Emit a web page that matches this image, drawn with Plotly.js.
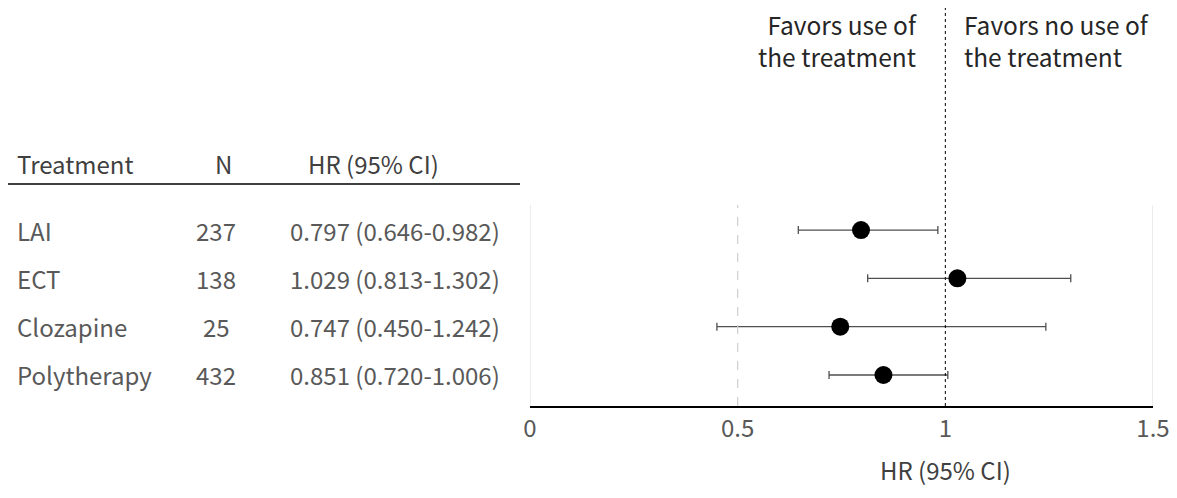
<!DOCTYPE html>
<html><head><meta charset="utf-8">
<script src="https://cdn.plot.ly/plotly-3.0.1.min.js"></script>
<style>html,body{margin:0;padding:0;background:#fff}</style>
</head><body>
<div id="chart" style="width:1177px;height:498px"></div>
<script>
const treatments = ["LAI", "ECT", "Clozapine", "Polytherapy"];
const nValues = ["237", "138", "25", "432"];
const hr = [0.797, 1.029, 0.747, 0.851];
const ciLow = [0.646, 0.813, 0.450, 0.720];
const ciHigh = [0.982, 1.302, 1.242, 1.006];
const hrLabels = ["0.797 (0.646-0.982)", "1.029 (0.813-1.302)", "0.747 (0.450-1.242)", "0.851 (0.720-1.006)"];
const rowPos = [4, 3, 2, 1];
const tickVals = [0, 0.5, 1, 1.5];
const tickText = ["0", "0.5", "1", "1.5"];

const W = 1177, H = 498;
const L = 530, R = 1153, T = 8, B = 406;
const px = p => (p - L) / (R - L);
const py = q => (B - q) / (B - T);
const FONT = "Noto Sans CJK JP";
const grey = "#595959";
const FS = 24;

const trace = {
  type: "scatter", mode: "markers",
  x: hr, y: rowPos,
  marker: {size: 18, color: "#000"},
  error_x: {type: "data", symmetric: false,
    array: hr.map((v, i) => ciHigh[i] - v),
    arrayminus: hr.map((v, i) => v - ciLow[i]),
    color: "#505050", thickness: 1.3, width: 4},
  hoverinfo: "x+y", showlegend: false
};

const annotations = [];
const hdr = (text, x, anchor) => annotations.push({xref: "paper", yref: "paper", x: px(x), y: py(163), text, showarrow: false, xanchor: anchor, yanchor: "middle", font: {family: FONT, size: FS, color: "#404040"}});
hdr("Treatment", 15, "left");
hdr("N", 223, "center");
hdr("HR (95% CI)", 373, "center");
treatments.forEach((t, i) => {
  annotations.push({xref: "paper", yref: "y", x: px(15), y: rowPos[i], text: t, showarrow: false, xanchor: "left", yanchor: "middle", font: {family: FONT, size: FS, color: grey}});
  annotations.push({xref: "paper", yref: "y", x: px(216), y: rowPos[i], text: nValues[i], showarrow: false, xanchor: "center", yanchor: "middle", font: {family: FONT, size: FS, color: grey}});
  annotations.push({xref: "paper", yref: "y", x: px(395), y: rowPos[i], text: hrLabels[i], showarrow: false, xanchor: "center", yanchor: "middle", font: {family: FONT, size: FS, color: grey}});
});
annotations.push({xref: "paper", yref: "paper", x: px(919), y: py(40), text: "Favors use of<br>the treatment", showarrow: false, xanchor: "right", yanchor: "middle", align: "right", font: {family: FONT, size: 24.5, color: "#262626"}});
annotations.push({xref: "paper", yref: "paper", x: px(962), y: py(40), text: "Favors no use of<br>the treatment", showarrow: false, xanchor: "left", yanchor: "middle", align: "left", font: {family: FONT, size: 24.5, color: "#262626"}});
annotations.push({xref: "x", yref: "paper", x: 1, y: py(469), text: "HR (95% CI)", showarrow: false, xanchor: "center", yanchor: "middle", font: {family: FONT, size: FS, color: "#404040"}});

const yBottom = 1 - (B - 375) / 48.3;
const yTop = 4 + (230 - T) / 48.3;
const gridTop = 4 + (230 - 205) / 48.3;

const shapes = [
  {type: "line", xref: "x", yref: "y", x0: 0, x1: 0, y0: yBottom, y1: gridTop, line: {color: "#d9d9d9", width: 1}},
  {type: "line", xref: "x", yref: "y", x0: 0.5, x1: 0.5, y0: yBottom, y1: gridTop, line: {color: "#cfcfcf", width: 1.2, dash: "dash"}},
  {type: "line", xref: "x", yref: "y", x0: 1.5, x1: 1.5, y0: yBottom, y1: gridTop, line: {color: "#d9d9d9", width: 1}},
  {type: "line", xref: "x", yref: "paper", x0: 1, x1: 1, y0: 0, y1: 1, line: {color: "#000", width: 1, dash: "dot"}},
  {type: "line", xref: "paper", yref: "paper", x0: px(8), x1: px(520), y0: py(184), y1: py(184), line: {color: "#000", width: 1.5}}
];

const layout = {
  width: W, height: H,
  margin: {l: L, r: W - R, t: T, b: H - B},
  paper_bgcolor: "#fff", plot_bgcolor: "#fff",
  xaxis: {range: [0, 1.5], tickvals: tickVals, ticktext: tickText, showgrid: false, zeroline: false,
    showline: true, linecolor: "#000", linewidth: 2, ticks: "", ticklen: 0,
    tickfont: {family: FONT, size: FS, color: grey}},
  yaxis: {range: [yBottom, yTop], showgrid: false, zeroline: false, showticklabels: false, showline: false},
  shapes, annotations,
  font: {family: FONT}
};
Plotly.newPlot("chart", [trace], layout, {displayModeBar: false, staticPlot: true});
</script>
</body></html>
